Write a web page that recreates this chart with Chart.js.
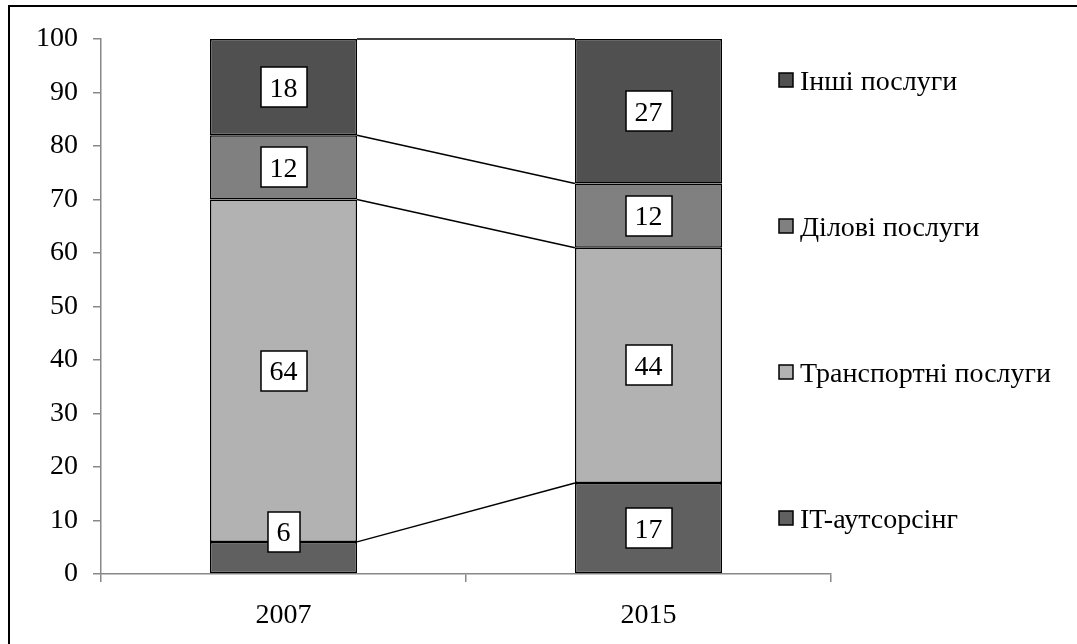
<!DOCTYPE html>
<html>
<head>
<meta charset="utf-8">
<script src="https://cdn.jsdelivr.net/npm/chart.js@4.4.1/dist/chart.umd.min.js"></script>
<style>
  html, body { margin: 0; padding: 0; background: #fff; overflow: hidden; }
  #wrap { position: relative; width: 1077px; height: 644px; }
</style>
</head>
<body>
<div id="wrap"><canvas id="chart" width="1077" height="644"></canvas></div>
<script>
// Structure of services exports, % of total
const categories = ['2007', '2015'];
const itOutsourcing = [6, 17];
const transportServices = [64, 44];
const businessServices = [12, 12];
const otherServices = [18, 27];
const seriesNames = ['IT-аутсорсінг', 'Транспортні послуги', 'Ділові послуги', 'Інші послуги'];
const yMin = 0;
const yMax = 100;
const yStep = 10;

const FONT = '"Liberation Serif", "Times New Roman", serif';
const FONT_SIZE = 28;
const AXIS_GREY = '#888888';

// Outer frame of the figure
const framePlugin = {
  id: 'frame',
  afterDraw(chart) {
    const ctx = chart.ctx;
    ctx.save();
    ctx.strokeStyle = '#000';
    ctx.lineWidth = 2;
    ctx.strokeRect(9, 6, 1200, 800);
    ctx.restore();
  }
};

// Lines joining the top edge of each segment between neighbouring bars
const seriesLinesPlugin = {
  id: 'seriesLines',
  afterDatasetsDraw(chart) {
    const ctx = chart.ctx;
    ctx.save();
    ctx.strokeStyle = '#000';
    ctx.lineWidth = 1.5;
    chart.data.datasets.forEach((ds, i) => {
      const els = chart.getDatasetMeta(i).data;
      for (let k = 0; k < els.length - 1; k++) {
        const a = els[k], b = els[k + 1];
        ctx.beginPath();
        ctx.moveTo(a.x + a.width / 2, a.y);
        ctx.lineTo(b.x - b.width / 2, b.y);
        ctx.stroke();
      }
    });
    ctx.restore();
  }
};

// Boxed value labels in the middle of each segment
const boxLabelsPlugin = {
  id: 'boxLabels',
  afterDatasetsDraw(chart) {
    const ctx = chart.ctx;
    const area = chart.chartArea;
    ctx.save();
    ctx.font = FONT_SIZE + 'px ' + FONT;
    ctx.textAlign = 'center';
    ctx.textBaseline = 'middle';
    chart.data.datasets.forEach((ds, i) => {
      chart.getDatasetMeta(i).data.forEach((el, j) => {
        const text = String(ds.data[j]);
        const tw = ctx.measureText(text).width;
        const w = tw + 18, h = 40;
        let cy = (el.y + el.base) / 2;
        // keep the box clear of the category axis
        const maxBottom = area.bottom - 22;
        if (cy + h / 2 > maxBottom) cy = maxBottom - h / 2;
        const x0 = Math.round(el.x - w / 2), y0 = Math.round(cy - h / 2);
        ctx.fillStyle = '#fff';
        ctx.fillRect(x0, y0, w, h);
        ctx.strokeStyle = '#000';
        ctx.lineWidth = 1.5;
        ctx.strokeRect(x0, y0, w, h);
        ctx.fillStyle = '#000';
        ctx.fillText(text, el.x, cy + 2);
      });
    });
    ctx.restore();
  }
};

// Legend on the right, top series first
const sideLegendPlugin = {
  id: 'sideLegend',
  afterDraw(chart) {
    const ctx = chart.ctx;
    const ds = chart.data.datasets;
    const x = 779, boxSize = 14, gap = 146, firstY = 80;
    ctx.save();
    ctx.font = FONT_SIZE + 'px ' + FONT;
    ctx.textAlign = 'left';
    ctx.textBaseline = 'alphabetic';
    for (let n = 0; n < ds.length; n++) {
      const d = ds[ds.length - 1 - n];
      const cy = firstY + n * gap;
      ctx.fillStyle = d.backgroundColor;
      ctx.fillRect(x, cy - boxSize / 2, boxSize, boxSize);
      ctx.strokeStyle = '#000';
      ctx.lineWidth = 1.5;
      ctx.strokeRect(x, cy - boxSize / 2, boxSize, boxSize);
      ctx.fillStyle = '#000';
      ctx.fillText(d.label, x + 21, cy + 10);
    }
    ctx.restore();
  }
};

const seriesValues = [itOutsourcing, transportServices, businessServices, otherServices];
const seriesColors = ['#606060', '#b2b2b2', '#808080', '#505050'];

const datasets = seriesValues.map((vals, i) => ({
  label: seriesNames[i],
  data: vals,
  backgroundColor: seriesColors[i],
  borderColor: '#000',
  borderWidth: 1.5,
  borderSkipped: false,
  categoryPercentage: 1,
  barPercentage: 0.403
}));

new Chart(document.getElementById('chart'), {
  type: 'bar',
  data: { labels: categories, datasets },
  options: {
    responsive: false,
    animation: false,
    devicePixelRatio: 1,
    layout: { padding: { top: 39, right: 246, left: 0, bottom: 0 } },
    plugins: {
      legend: { display: false },
      tooltip: { enabled: false }
    },
    scales: {
      x: {
        stacked: true,
        afterFit(scale) { scale.height = 70; },
        border: { color: AXIS_GREY, width: 1.5 },
        grid: { offset: true, drawOnChartArea: false, color: AXIS_GREY, tickLength: 8, lineWidth: 1.5 },
        ticks: { color: '#000', font: { family: FONT, size: FONT_SIZE }, padding: 17 }
      },
      y: {
        stacked: true,
        min: yMin,
        max: yMax,
        afterFit(scale) { scale.width = 101; },
        border: { color: AXIS_GREY, width: 1.5 },
        grid: { drawOnChartArea: false, color: AXIS_GREY, tickLength: 8, lineWidth: 1.5 },
        ticks: { stepSize: yStep, color: '#000', font: { family: FONT, size: FONT_SIZE }, padding: 15 }
      }
    }
  },
  plugins: [seriesLinesPlugin, boxLabelsPlugin, sideLegendPlugin, framePlugin]
});
</script>
</body>
</html>
